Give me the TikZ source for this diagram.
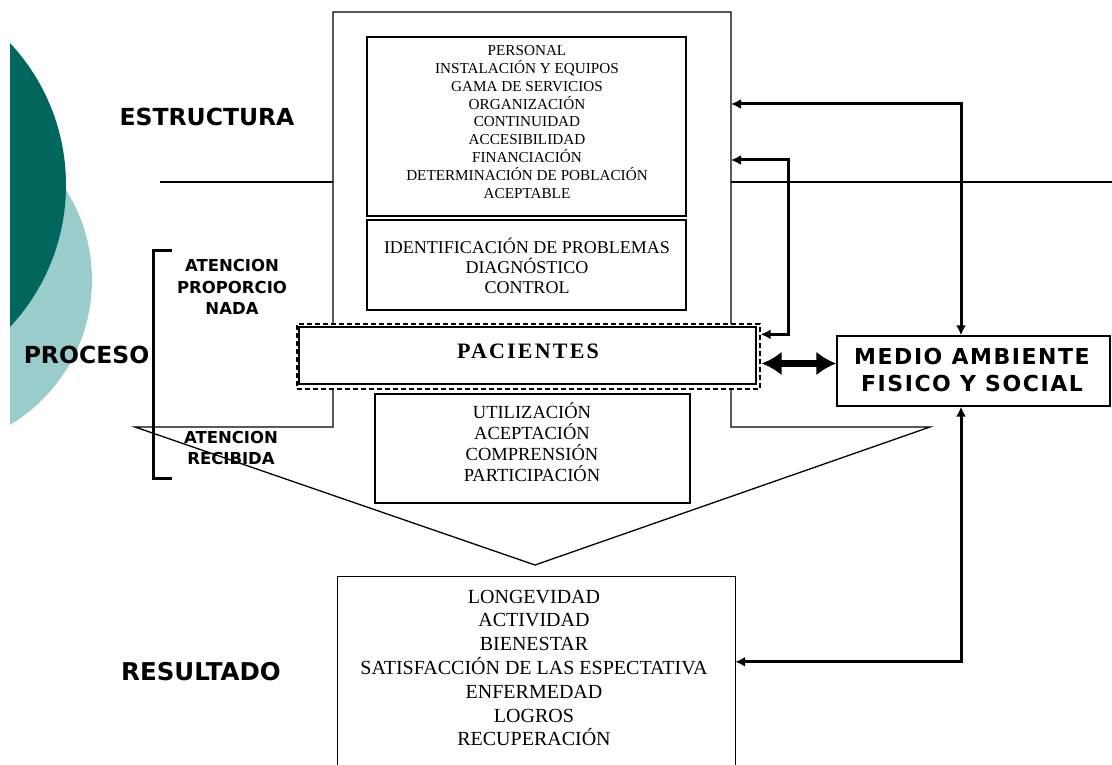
\documentclass[tikz,border=0pt]{standalone}
\usepackage{fontspec}
\setmainfont{Liberation Serif}
\newfontfamily\dvb{DejaVu Sans}
\usetikzlibrary{arrows.meta,calc}
\definecolor{darkteal}{RGB}{0,102,94}
\definecolor{lightteal}{RGB}{154,204,203}
\begin{document}
\begin{tikzpicture}[x=1pt,y=-1pt,
  frame/.style={draw=black,line width=1.3pt},
  boxn/.style={draw=black,line width=1.3pt,fill=white,inner sep=0pt},
  sertxt/.style={align=center,inner sep=0pt},
  bigsans/.style={inner sep=0pt,font=\dvb\bfseries\fontsize{23.5}{28}\selectfont},
  smallsans/.style={inner sep=0pt,align=center,font=\dvb\bfseries\fontsize{16.5}{21.5}\selectfont},
  arr/.style={line width=3pt,{Latex[length=10pt,width=10pt]}-{Latex[length=10pt,width=10pt]}},
  fatarr/.style={line width=7pt,{Latex[length=20pt,width=24pt]}-{Latex[length=20pt,width=24pt]}}]
\useasboundingbox (0,0) rectangle (1112,765);
% background circles
\begin{scope}
\clip (10,0) rectangle (400,765);
\fill[lightteal] (-77,280) circle[radius=169pt];
\fill[darkteal] (-142,185) circle[radius=208pt];
\end{scope}
% frame coordinates
\coordinate (fTL) at (333,12);
\coordinate (fTR) at (731,12);
\coordinate (fR) at (731,427);
\coordinate (fRR) at (930,427);
\coordinate (fTip) at (535,565);
\coordinate (fLL) at (135,427);
\coordinate (fL) at (333,427);
\coordinate (sepA) at (160,182);
\coordinate (sepB) at (1112,182);
\coordinate (fR1) at (731,104);
\coordinate (fR2) at (731,160);
% separator line
\draw[line width=1.2pt] (sepA) -- (fTL |- sepA);
\draw[line width=1.2pt] (fTR |- sepB) -- (sepB);
% outer frame (arrow shape)
\draw[frame,fill=white] (fTL) -- (fTR) -- (fR) -- (fRR) -- (fTip) -- (fLL) -- (fL) -- cycle;
% boxes
\node[boxn,minimum width=319pt,minimum height=179pt] (estr) at (526.5,126.5) {};
\node[boxn,minimum width=319pt,minimum height=90pt] (ident) at (526.5,265) {};
\node[draw=black,dash pattern=on 5pt off 3pt,line width=1.3pt,fill=white,inner sep=0pt,minimum width=463pt,minimum height=65pt] (pacd) at (528.5,356.5) {};
\node[boxn,minimum width=457pt,minimum height=57pt] (pac) at (527.5,355.5) {};
\node[boxn,minimum width=315pt,minimum height=109pt] (util) at (532.5,448.5) {};
\node[inner sep=0pt,minimum width=397pt,minimum height=200pt] (res) at (536.5,677) {};
\draw[line width=1.3pt] (res.south west) -- (res.north west) -- (res.north east) -- (res.south east);
\node[boxn,minimum width=273pt,minimum height=70pt] (medio) at (973.5,371) {};
% texts
\node[sertxt,font=\fontsize{15.2}{17.8}\selectfont] (estrtxt) at (527,122) {PERSONAL\\INSTALACIÓN Y EQUIPOS\\GAMA DE SERVICIOS\\ORGANIZACIÓN\\CONTINUIDAD\\ACCESIBILIDAD\\FINANCIACIÓN\\DETERMINACIÓN DE POBLACIÓN\\ACEPTABLE};
\node[sertxt,font=\fontsize{18}{20}\selectfont] (identtxt) at (527,266) {IDENTIFICACIÓN DE PROBLEMAS\\DIAGNÓSTICO\\CONTROL};
\node[inner sep=0pt,font=\bfseries\fontsize{22}{26}\selectfont\addfontfeature{LetterSpace=10}] (pactxt) at (528,351) {PACIENTES};
\node[sertxt,font=\fontsize{18.5}{21}\selectfont] (utiltxt) at (532,442) {UTILIZACIÓN\\ACEPTACIÓN\\COMPRENSIÓN\\PARTICIPACIÓN};
\node[sertxt,font=\fontsize{20}{23.8}\selectfont] (restxt) at (534,668) {LONGEVIDAD\\ACTIVIDAD\\BIENESTAR\\SATISFACCIÓN DE LAS ESPECTATIVA\\ENFERMEDAD\\LOGROS\\RECUPERACIÓN};
\node[inner sep=0pt,align=center,font=\dvb\bfseries\fontsize{22}{27.5}\selectfont\addfontfeature{LetterSpace=7}] (meditxt) at (972,370) {MEDIO AMBIENTE\\FISICO Y SOCIAL};
% side labels
\node[bigsans] (lestr) at (207,117) {ESTRUCTURA};
\node[bigsans] (lproc) at (86.5,355) {PROCESO};
\node[bigsans,font=\dvb\bfseries\fontsize{24.5}{28}\selectfont] (lres) at (201,672) {RESULTADO};
\node[smallsans] (lprop) at (232,287) {ATENCION\\PROPORCIO\\NADA};
\node[smallsans] (lrec) at (231,448) {ATENCION\\RECIBIDA};
% bracket
\draw[line width=3pt] (172,250) -- (153,250) -- (153,478) -- (172,478);
% connectors
\coordinate (mTop) at ($(medio.north)+(-12.5,0)$);
\coordinate (mBot) at ($(medio.south)+(-12.5,0)$);
\coordinate (pIn) at ($(pacd.north east)+(0,11)$);
\coordinate (rIn) at ($(res.north east)+(0,85)$);
\draw[arr] (fR1) -| (mTop);
\draw[arr] (pIn) -- ++(28,0) |- (fR2);
\draw[arr] (mBot) |- (rIn);
\coordinate (t1) at ($(pacd.east)+(1,7)$);
\draw[fatarr] (t1) -- (t1 -| medio.west);
\end{tikzpicture}
\end{document}
